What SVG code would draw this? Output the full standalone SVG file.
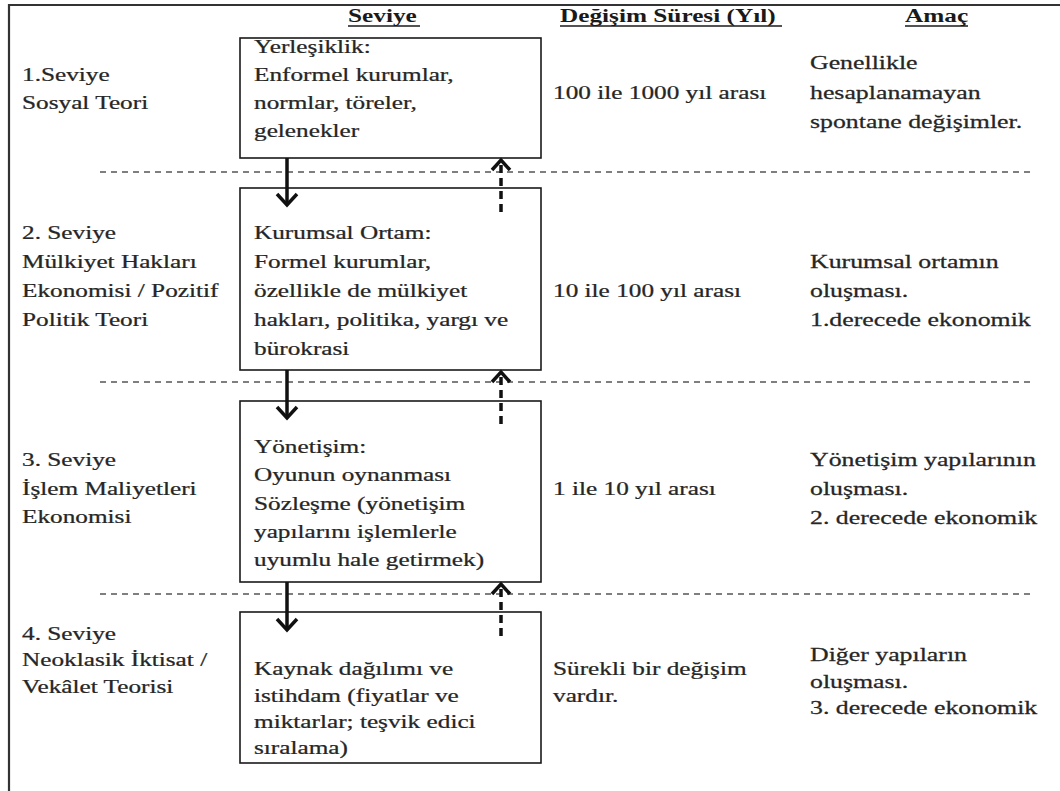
<svg xmlns="http://www.w3.org/2000/svg" width="1060" height="791" viewBox="0 0 1060 791">
<style>
.t{font-family:"Liberation Serif","Times New Roman",serif;font-size:19px;fill:#262626;stroke:#262626;stroke-width:0.25}
.h{font-weight:bold;fill:#1a1a1a;stroke:none}
.ul{stroke:#1a1a1a;stroke-width:1.6}
.box{fill:#fff;stroke:#1a1a1a;stroke-width:1.6}
.sep{stroke:#555;stroke-width:1.3;stroke-dasharray:6 5;fill:none}
.down{stroke:#111;stroke-width:3.5;fill:none}
.up{stroke:#111;stroke-width:3.5;stroke-dasharray:8 5;fill:none}
.head{stroke:#111;stroke-width:3.5;fill:none;stroke-linejoin:miter}
.frame{fill:none;stroke:#333;stroke-width:2.2}
</style>
<rect width="1060" height="791" fill="#fff"/>
<path class="frame" d="M9,800 V5 H1070"/>
<g id="headers">
<g transform="translate(348 0) scale(1.33 1)"><text class="t h" y="22">Seviye</text></g>
<g transform="translate(560 0) scale(1.33 1)"><text class="t h" y="22">Değişim Süresi (Yıl)</text></g>
<g transform="translate(905 0) scale(1.33 1)"><text class="t h" y="22">Amaç</text></g>
<line class="ul" x1="348" y1="26" x2="420" y2="26"/>
<line class="ul" x1="560" y1="26" x2="782" y2="26"/>
<line class="ul" x1="905" y1="26" x2="968" y2="26"/>
</g>
<g id="separators">
<line class="sep" x1="100" y1="172" x2="1030" y2="172"/>
<line class="sep" x1="100" y1="382" x2="1030" y2="382"/>
<line class="sep" x1="100" y1="594" x2="1030" y2="594"/>
</g>
<g id="level-1">
<rect class="box" x="240" y="38" width="301" height="120"/>
<g transform="translate(22 0) scale(1.33 1)"><text class="t" y="81">1.Seviye</text><text class="t" y="109">Sosyal Teori</text></g>
<g transform="translate(254 0) scale(1.33 1)"><text class="t" y="53">Yerleşiklik:</text><text class="t" y="81">Enformel kurumlar,</text><text class="t" y="109">normlar, töreler,</text><text class="t" y="137">gelenekler</text></g>
<g transform="translate(553 0) scale(1.33 1)"><text class="t" y="99">100 ile 1000 yıl arası</text></g>
<g transform="translate(810 0) scale(1.36 1)"><text class="t" y="69">Genellikle</text><text class="t" y="99">hesaplanamayan</text><text class="t" y="128">spontane değişimler.</text></g>
</g>
<g id="level-2">
<rect class="box" x="240" y="188" width="301" height="182"/>
<g transform="translate(22 0) scale(1.33 1)"><text class="t" y="239">2. Seviye</text><text class="t" y="268">Mülkiyet Hakları</text><text class="t" y="297">Ekonomisi / Pozitif</text><text class="t" y="326">Politik Teori</text></g>
<g transform="translate(254 0) scale(1.33 1)"><text class="t" y="239">Kurumsal Ortam:</text><text class="t" y="268">Formel kurumlar,</text><text class="t" y="297">özellikle de mülkiyet</text><text class="t" y="326">hakları, politika, yargı ve</text><text class="t" y="355">bürokrasi</text></g>
<g transform="translate(553 0) scale(1.33 1)"><text class="t" y="297">10 ile 100 yıl arası</text></g>
<g transform="translate(810 0) scale(1.36 1)"><text class="t" y="268">Kurumsal ortamın</text><text class="t" y="297">oluşması.</text><text class="t" y="326">1.derecede ekonomik</text></g>
</g>
<g id="level-3">
<rect class="box" x="240" y="401" width="301" height="181"/>
<g transform="translate(22 0) scale(1.33 1)"><text class="t" y="466">3. Seviye</text><text class="t" y="495">İşlem Maliyetleri</text><text class="t" y="523">Ekonomisi</text></g>
<g transform="translate(254 0) scale(1.33 1)"><text class="t" y="453">Yönetişim:</text><text class="t" y="481">Oyunun oynanması</text><text class="t" y="510">Sözleşme (yönetişim</text><text class="t" y="538">yapılarını işlemlerle</text><text class="t" y="566">uyumlu hale getirmek)</text></g>
<g transform="translate(553 0) scale(1.33 1)"><text class="t" y="495">1 ile 10 yıl arası</text></g>
<g transform="translate(810 0) scale(1.36 1)"><text class="t" y="466">Yönetişim yapılarının</text><text class="t" y="495">oluşması.</text><text class="t" y="524">2. derecede ekonomik</text></g>
</g>
<g id="level-4">
<rect class="box" x="240" y="612" width="301" height="151"/>
<g transform="translate(22 0) scale(1.33 1)"><text class="t" y="640">4. Seviye</text><text class="t" y="666">Neoklasik İktisat /</text><text class="t" y="693">Vekâlet Teorisi</text></g>
<g transform="translate(254 0) scale(1.33 1)"><text class="t" y="675">Kaynak dağılımı ve</text><text class="t" y="702">istihdam (fiyatlar ve</text><text class="t" y="728">miktarlar; teşvik edici</text><text class="t" y="754">sıralama)</text></g>
<g transform="translate(553 0) scale(1.33 1)"><text class="t" y="675">Sürekli bir değişim</text><text class="t" y="702">vardır.</text></g>
<g transform="translate(810 0) scale(1.36 1)"><text class="t" y="661">Diğer yapıların</text><text class="t" y="688">oluşması.</text><text class="t" y="714">3. derecede ekonomik</text></g>
</g>
<g id="connectors">
<line class="down" x1="287" y1="158" x2="287" y2="204"/><path class="head" d="M277,194 L287,205 L297,194"/>
<line class="up" x1="501" y1="212" x2="501" y2="162"/><path class="head" d="M492,170 L501,160 L510,170"/>
<line class="down" x1="287" y1="370" x2="287" y2="417"/><path class="head" d="M277,407 L287,418 L297,407"/>
<line class="up" x1="501" y1="424" x2="501" y2="374"/><path class="head" d="M492,382 L501,372 L510,382"/>
<line class="down" x1="287" y1="582" x2="287" y2="629"/><path class="head" d="M277,619 L287,630 L297,619"/>
<line class="up" x1="501" y1="636" x2="501" y2="586"/><path class="head" d="M492,594 L501,584 L510,594"/>
</g>
</svg>
